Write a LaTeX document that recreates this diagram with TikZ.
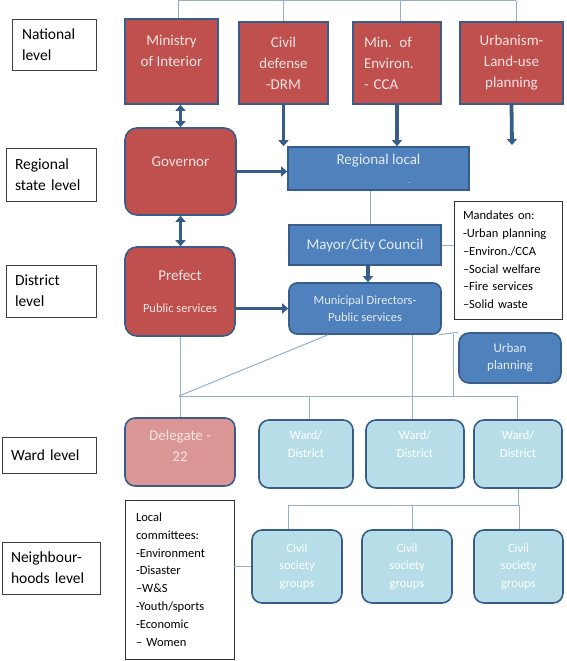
\documentclass[tikz,border=0pt]{standalone}
\usepackage{fontspec}
\setmainfont{Carlito}
\usetikzlibrary{positioning,arrows.meta}

\definecolor{govred}{HTML}{C0504D}
\definecolor{govblue}{HTML}{4F81BD}
\definecolor{wardblue}{HTML}{B7DEE8}
\definecolor{delred}{HTML}{D99694}
\definecolor{edgeblue}{HTML}{385D8A}
\definecolor{linkgray}{HTML}{95AFC9}
\definecolor{pinkwhite}{HTML}{F6E4E3}
\definecolor{bluewhite}{HTML}{E4ECF6}

\begin{document}
\begin{tikzpicture}[
  x=1pt, y=-1pt,
  level/.style={
    rectangle, draw=black!75, line width=0.8pt, fill=white, inner sep=0pt,
    align=left, font=\fontsize{15.5}{21}\selectfont
  },
  redbox/.style={
    rectangle, draw=edgeblue, line width=1.6pt, fill=govred, text=pinkwhite,
    inner sep=0pt, align=center, font=\fontsize{15}{21}\selectfont
  },
  bluebox/.style={
    rectangle, draw=edgeblue, line width=1.6pt, fill=govblue, text=bluewhite,
    inner sep=0pt, align=center, font=\fontsize{12.5}{17}\selectfont
  },
  wardbox/.style={
    rectangle, rounded corners=10pt, draw=edgeblue, line width=1.6pt,
    fill=wardblue, text=white, inner sep=0pt, align=center,
    font=\fontsize{12.5}{17.5}\selectfont
  },
  note/.style={
    rectangle, draw=black!80, line width=0.8pt, fill=white, inner sep=0pt,
    align=left, font=\fontsize{12.5}{17.8}\selectfont
  },
  link/.style={draw=linkgray, line width=1pt},
  arrow/.style={-{Triangle[length=6pt,width=10pt]}, line width=3.8pt, edgeblue},
  twoway/.style={{Triangle[length=6pt,width=10pt]}-{Triangle[length=6pt,width=10pt]},
    line width=3.8pt, edgeblue}
]
\useasboundingbox (0,0) rectangle (567,661);

% === Level labels ===
\node[level, minimum width=84pt, minimum height=51pt, text width=64pt] (natl) at (54,44.5) {National\\level};
\node[level, minimum width=90pt, minimum height=53pt, text width=72pt] (regl) at (51,174.5) {Regional\\state level};
\node[level, minimum width=90pt, minimum height=52pt, text width=72pt] (distl) at (51,291) {District\\level};
\node[level, minimum width=94pt, minimum height=36pt, text width=76pt] (wardl) at (49,455) {Ward level};
\node[level, minimum width=98pt, minimum height=52pt, text width=80pt] (nbhl) at (51,568) {Neighbour-\\hoods level};

% === National ministries ===
\node[redbox, minimum width=93pt, minimum height=85pt, text depth=21pt] (min) at (171.5,61.5) {Ministry\\of Interior};
\node[redbox, minimum width=89pt, minimum height=82pt] (cdef) at (283.5,63) {Civil\\defense\\-DRM};
\node[redbox, minimum width=88pt, minimum height=82pt, text width=66pt, align=left] (menv) at (397,63) {Min. of\\Environ.\\- CCA};
\node[redbox, minimum width=103pt, minimum height=82pt] (urb) at (511.5,63) {Urbanism-\\Land-use\\planning};

% === Regional and district ===
\node[redbox, rounded corners=12pt, minimum width=111pt, minimum height=87pt, text depth=20pt] (gov) at (180.5,171.5) {Governor};
\node[bluebox, font=\fontsize{15}{19}\selectfont, minimum width=181pt, minimum height=43pt] (regloc) at (378.5,168.5) {Regional local\\\hspace*{62pt}{\footnotesize.}};
\node[bluebox, font=\fontsize{15}{19}\selectfont, minimum width=152pt, minimum height=40pt] (mayor) at (365,245) {Mayor/City Council};
\node[note, minimum width=108pt, minimum height=118pt, text width=90pt] (mand) at (508,260)
  {Mandates on:\\-Urban planning\\--Environ./CCA\\--Social welfare\\--Fire services\\--Solid waste};
\node[redbox, rounded corners=12pt, minimum width=110pt, minimum height=89pt] (pref) at (180,291.5)
  {Prefect\\[11pt]{\fontsize{12.5}{15}\selectfont Public services}};
\node[bluebox, rounded corners=8pt, minimum width=152pt, minimum height=51pt] (mundir) at (365,308.5) {Municipal Directors-\\Public services};
\node[bluebox, rounded corners=10pt, font=\fontsize{13}{17}\selectfont, minimum width=102pt, minimum height=50pt] (urbpl) at (510,358) {Urban\\planning};

% === Ward level ===
\node[redbox, rounded corners=10pt, fill=delred, minimum width=110pt, minimum height=68pt, text depth=12pt] (deleg) at (180,452) {Delegate -\\22};
\node[wardbox, minimum width=94pt, minimum height=68pt, text depth=20pt] (ward1) at (306,454) {Ward/\\District};
\node[wardbox, minimum width=98pt, minimum height=68pt, text depth=20pt] (ward2) at (415,454) {Ward/\\District};
\node[wardbox, minimum width=88pt, minimum height=68pt, text depth=20pt] (ward3) at (518,454) {Ward/\\District};

% === Neighbourhoods ===
\node[note, minimum width=109pt, minimum height=159pt, text width=87pt] (lcom) at (179.5,579.5)
  {Local\\committees:\\-Environment\\-Disaster\\--W\&S\\-Youth/sports\\-Economic\\-- Women};
\node[wardbox, minimum width=90pt, minimum height=73pt] (civ1) at (297,566.5) {Civil\\society\\groups};
\node[wardbox, minimum width=90pt, minimum height=73pt] (civ2) at (407,566.5) {Civil\\society\\groups};
\node[wardbox, minimum width=89pt, minimum height=73pt] (civ3) at (518.5,566.5) {Civil\\society\\groups};

% === Top bus ===
\coordinate (topL) at (178,1);
\coordinate (topR) at (516,1);
\draw[link] (topL) -- (topR);
\draw[link] (topL) -- (topL |- min.north);
\draw[link] (cdef.north |- topL) -- (cdef.north);
\draw[link] ([xshift=3pt]menv.north |- topL) -- ([xshift=3pt]menv.north);
\draw[link] (topR) -- (topR |- urb.north);

% === Thick arrows ===
\coordinate (urbend) at (512,145);
\draw[twoway] (min.south -| gov) -- (gov.north);
\draw[arrow] (cdef.south) -- (cdef.south |- regloc.north);
\draw[arrow] (menv.south) -- (menv.south |- regloc.north);
\draw[arrow] (urb.south) -- (urbend);
\draw[arrow] (gov.east) -- (gov.east -| regloc.west);
\draw[twoway] (gov.south) -- (gov.south |- pref.north);
\draw[arrow] ([xshift=3pt]mayor.south) -- ([xshift=3pt]mundir.north);
\draw[arrow] (pref.east |- mundir) -- (mundir.west);

% === Thin links ===
\draw[link] ([xshift=5pt]mayor.north |- regloc.south) -- ([xshift=5pt]mayor.north);
\draw[link] (mayor.east) -- (mayor.east -| mand.west);

\coordinate (barL) at (179,396);
\coordinate (barR) at (517,396);
\coordinate (upjoin) at (453,334);
\draw[link] (pref.south) -- (deleg.north);
\draw[link] ([xshift=-37pt]mundir.south) -- (barL);
\draw[link] (barL) -- (barR);
\draw[link] ([xshift=3pt]ward1.north |- barL) -- ([xshift=3pt]ward1.north);
\draw[link] ([xshift=47pt]mundir.south) -- ([xshift=47pt]mundir.south |- ward2.north);
\draw[link] (barR) -- (barR |- ward3.north);
\draw[link] ([xshift=-3pt]mundir.south east) -- (urbpl.north west);
\draw[link] (upjoin) -- (upjoin |- barR);

\coordinate (cbusL) at (288,505);
\coordinate (cbusR) at (519,505);
\draw[link] (ward3.south) -- (ward3.south |- cbusR);
\draw[link] (cbusL) -- (cbusR);
\draw[link] (cbusL) -- (cbusL |- civ1.north);
\draw[link] ([xshift=5pt]civ2.north |- cbusL) -- ([xshift=5pt]civ2.north);
\draw[link] (cbusR) -- (cbusR |- civ3.north);
\draw[link] (lcom.east |- civ1) -- (civ1.west);

\end{tikzpicture}
\end{document}
